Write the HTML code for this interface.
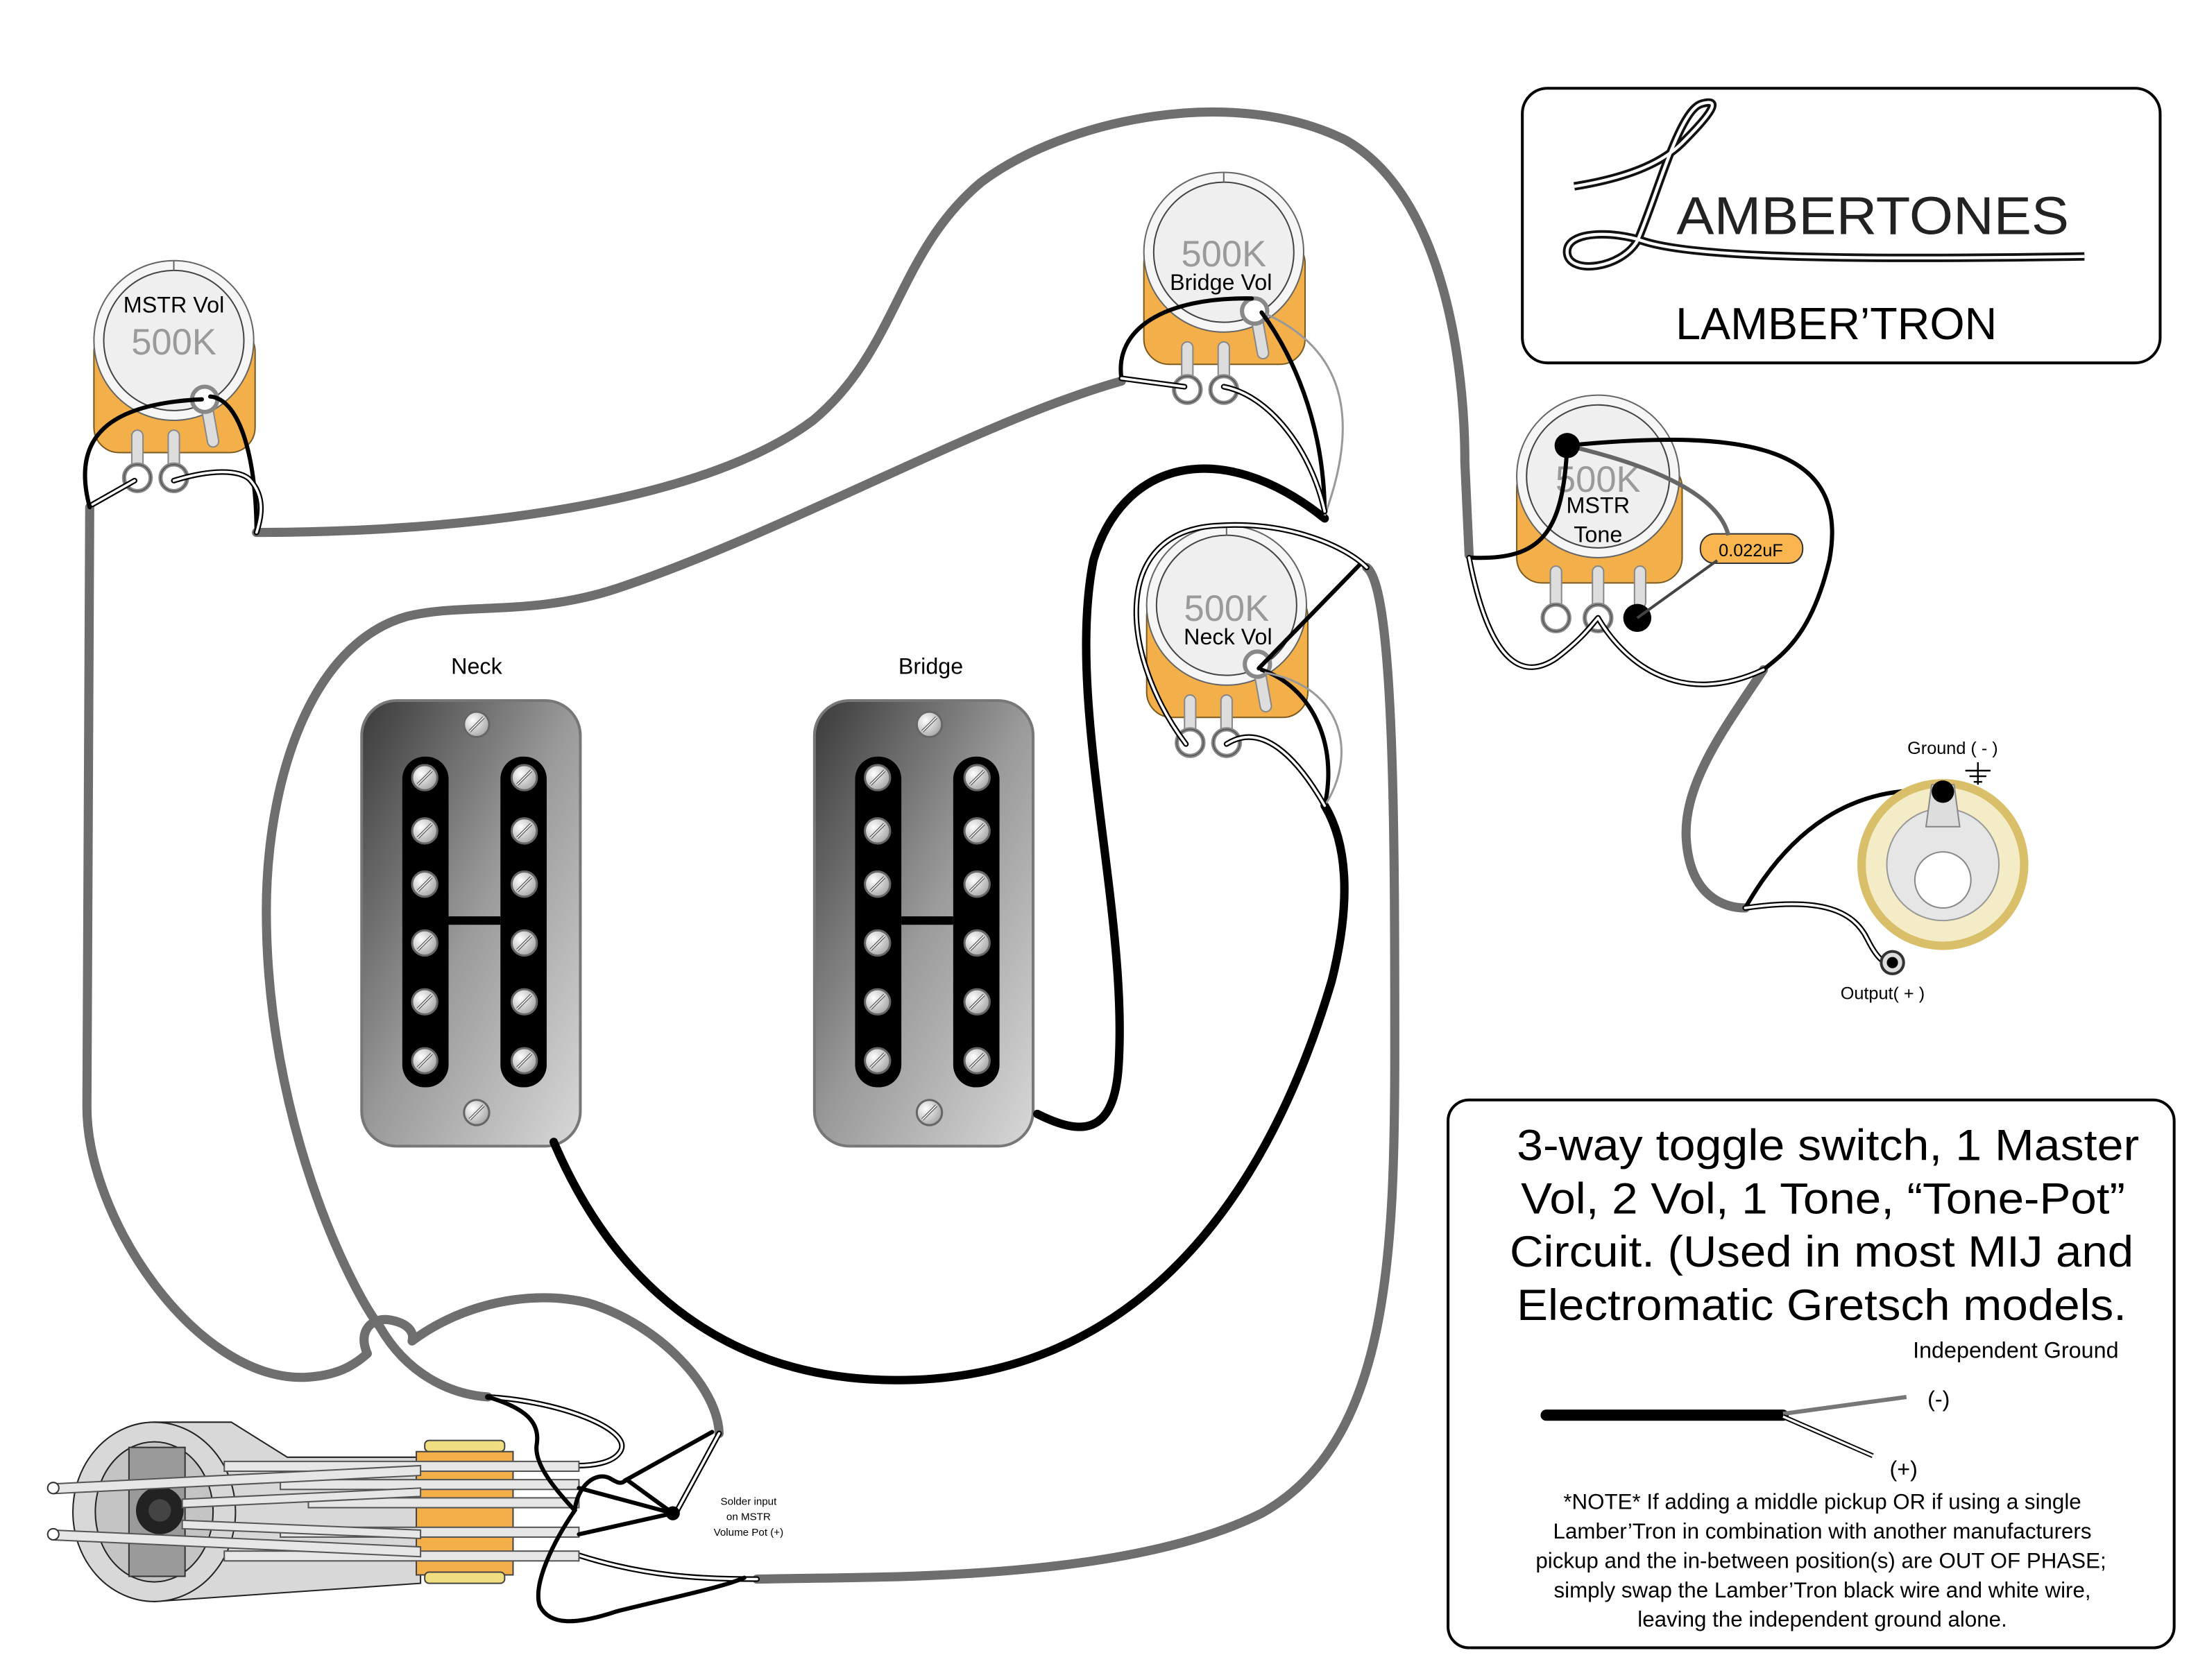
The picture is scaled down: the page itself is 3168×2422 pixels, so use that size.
<!DOCTYPE html>
<html><head><meta charset="utf-8"><style>
html,body{margin:0;padding:0;background:#fff;}
svg{display:block;font-family:"Liberation Sans",sans-serif;}
</style></head><body>
<svg width="3168" height="2422" viewBox="0 0 1568 1199" preserveAspectRatio="none" xmlns="http://www.w3.org/2000/svg">
<defs>
<linearGradient id="pg" x1="0" y1="0" x2="1" y2="1">
<stop offset="0" stop-color="#3a3a3a"/><stop offset="0.5" stop-color="#9a9a9a"/><stop offset="1" stop-color="#d8d8d8"/>
</linearGradient>
<radialGradient id="sg" cx="0.35" cy="0.35" r="0.8"><stop offset="0" stop-color="#fff"/><stop offset="1" stop-color="#999"/></radialGradient>
<g id="screw"><circle r="9" fill="url(#sg)" stroke="#666" stroke-width="1.5"/><line x1="-5" y1="5" x2="5" y2="-5" stroke="#555" stroke-width="2"/><line x1="-5" y1="5" x2="5" y2="-5" stroke="#fff" stroke-width="0.8"/></g>
<g id="ring"><circle r="9.5" fill="#fff" stroke="#888" stroke-width="3"/><circle r="9.5" fill="none" stroke="#555" stroke-width="0.8"/></g>
<g id="pot">
<rect x="-57" y="-10" width="115" height="90" rx="18" fill="#f3b04a" stroke="#7a5a20" stroke-width="1"/>
<rect x="-30" y="64" width="8" height="30" rx="4" fill="#ddd" stroke="#888"/>
<rect x="-4" y="64" width="8" height="30" rx="4" fill="#ddd" stroke="#888"/>
<circle r="57" fill="#f6f6f6" stroke="#666" stroke-width="1"/>
<circle r="50" fill="#efefef" stroke="#444" stroke-width="1"/>
<line x1="0" y1="-57" x2="0" y2="-50" stroke="#666"/>
<line x1="23" y1="44" x2="28" y2="72" stroke="#888" stroke-width="9" stroke-linecap="round"/>
<line x1="23" y1="44" x2="28" y2="72" stroke="#ddd" stroke-width="7" stroke-linecap="round"/>
<circle cx="22" cy="42" r="9" fill="#fff" stroke="#888" stroke-width="3"/>
<use href="#ring" x="-26" y="98"/><use href="#ring" x="0" y="98"/>
</g>
<g id="pickup">
<rect x="0" y="0" width="156" height="318" rx="25" fill="url(#pg)" stroke="#777" stroke-width="2"/>
<use href="#screw" x="82" y="17"/><use href="#screw" x="82" y="294"/>
<rect x="29" y="40" width="33" height="236" rx="16" fill="#000"/>
<rect x="99" y="40" width="33" height="236" rx="16" fill="#000"/>
<rect x="62" y="154" width="37" height="6" fill="#000"/>
<use href="#screw" x="45" y="55"/><use href="#screw" x="45" y="93"/><use href="#screw" x="45" y="131"/><use href="#screw" x="45" y="173"/><use href="#screw" x="45" y="215"/><use href="#screw" x="45" y="257"/>
<use href="#screw" x="116" y="55"/><use href="#screw" x="116" y="93"/><use href="#screw" x="116" y="131"/><use href="#screw" x="116" y="173"/><use href="#screw" x="116" y="215"/><use href="#screw" x="116" y="257"/>
</g>
</defs>

<!-- logo box -->
<rect x="1086" y="63" width="455" height="196" rx="18" fill="#fff" stroke="#000" stroke-width="2"/>
<g fill="none" stroke-linecap="butt">
<path d="M1123,133 C1160,127 1185,117 1200,102 C1222,80 1228,70 1214,74 C1198,78 1182,140 1168,172 C1156,192 1120,196 1118,181 C1116,164 1152,165 1172,172 C1205,183 1300,186 1487,183" stroke="#111" stroke-width="6"/>
<path d="M1123,133 C1160,127 1185,117 1200,102 C1222,80 1228,70 1214,74 C1198,78 1182,140 1168,172 C1156,192 1120,196 1118,181 C1116,164 1152,165 1172,172 C1205,183 1300,186 1487,183" stroke="#fff" stroke-width="2.2"/>
</g>
<text x="1196" y="167" font-size="38" textLength="280" lengthAdjust="spacingAndGlyphs" fill="#222">AMBERTONES</text>
<text x="1310" y="242" font-size="32" text-anchor="middle" fill="#000">LAMBER’TRON</text>

<!-- text box -->
<rect x="1033" y="785" width="518" height="391" rx="15" fill="#fff" stroke="#000" stroke-width="2"/>
<g font-size="31" fill="#000">
<text x="1082" y="828" textLength="444" lengthAdjust="spacingAndGlyphs">3-way toggle switch, 1 Master</text>
<text x="1085" y="866" textLength="431" lengthAdjust="spacingAndGlyphs">Vol, 2 Vol, 1 Tone, “Tone-Pot”</text>
<text x="1077" y="904" textLength="445" lengthAdjust="spacingAndGlyphs">Circuit. (Used in most MIJ and</text>
<text x="1082" y="942" textLength="435" lengthAdjust="spacingAndGlyphs">Electromatic Gretsch models.</text>
</g>
<text x="1438" y="969" font-size="16" text-anchor="middle">Independent Ground</text>
<line x1="1103" y1="1010" x2="1272" y2="1010" stroke="#000" stroke-width="8" stroke-linecap="round"/>
<line x1="1272" y1="1009" x2="1360" y2="997" stroke="#777" stroke-width="3"/>
<line x1="1272" y1="1011" x2="1336" y2="1039" stroke="#000" stroke-width="3.5"/>
<line x1="1272" y1="1011" x2="1336" y2="1039" stroke="#fff" stroke-width="1.6"/>
<text x="1383" y="1004" font-size="16" text-anchor="middle">(-)</text>
<text x="1358" y="1054" font-size="16" text-anchor="middle">(+)</text>
<g font-size="15.5" text-anchor="middle">
<text x="1300" y="1077">*NOTE* If adding a middle pickup OR if using a single</text>
<text x="1300" y="1098">Lamber’Tron in combination with another manufacturers</text>
<text x="1299" y="1119">pickup and the in-between position(s) are OUT OF PHASE;</text>
<text x="1300" y="1140">simply swap the Lamber’Tron black wire and white wire,</text>
<text x="1300" y="1161">leaving the independent ground alone.</text>
</g>

<!-- pickups -->
<text x="340" y="481" font-size="16" text-anchor="middle">Neck</text>
<text x="664" y="481" font-size="16" text-anchor="middle">Bridge</text>
<use href="#pickup" x="258" y="500"/>
<use href="#pickup" x="581" y="500"/>

<!-- gray wires -->
<g fill="none" stroke="#6e6e6e" stroke-width="6.5" stroke-linecap="round">
<path d="M183,380 C330,380 500,360 580,300 C640,250 640,180 700,130 C760,85 880,60 960,100 C1030,140 1045,260 1045,330 L1048,396"/>
<path d="M800,272 C700,300 560,380 440,420 C380,440 330,430 290,440 C220,460 190,560 190,650 C190,800 250,920 271,947 C290,980 320,995 348,997"/>
<path d="M64,362 L62,790 C62,870 140,985 217,983 C240,982 252,975 262,966"/>
<path d="M262,966 C255,950 265,940 278,942 C290,944 296,950 294,957"/>
<path d="M294,957 C330,930 380,920 420,930 C470,945 512,990 513,1023"/>
<path d="M975,405 C995,420 995,600 995,750 C995,900 990,1030 900,1080 C800,1130 620,1125 540,1127"/>
<path d="M1258,478 C1230,520 1200,560 1203,600 C1206,640 1230,648 1245,648"/>
</g>

<!-- thick black wires -->
<g fill="none" stroke="#000" stroke-width="6" stroke-linecap="round">
<path d="M395,815 C440,920 520,985 640,985 C800,985 900,870 950,700 C965,640 960,600 945,575"/>
<path d="M740,795 C770,810 795,812 798,760 C805,650 760,500 780,400 C800,330 870,310 945,370"/>
</g>

<!-- pots -->
<use href="#pot" x="124" y="243"/>
<text x="124" y="223" font-size="16" text-anchor="middle">MSTR Vol</text>
<text x="124" y="253" font-size="26" text-anchor="middle" fill="#9a9a9a">500K</text>
<use href="#pot" x="873" y="180"/>
<text x="873" y="190" font-size="26" text-anchor="middle" fill="#9a9a9a">500K</text>
<text x="871" y="207" font-size="16" text-anchor="middle">Bridge Vol</text>
<use href="#pot" x="875" y="432"/>
<text x="875" y="443" font-size="26" text-anchor="middle" fill="#9a9a9a">500K</text>
<text x="876" y="460" font-size="16" text-anchor="middle">Neck Vol</text>
<!-- tone pot -->
<g transform="translate(1140,340)">
<rect x="-58" y="-10" width="118" height="86" rx="18" fill="#f3b04a" stroke="#7a5a20"/>
<rect x="-34" y="64" width="8" height="30" rx="4" fill="#ddd" stroke="#888"/>
<rect x="-4" y="64" width="8" height="30" rx="4" fill="#ddd" stroke="#888"/>
<rect x="26" y="64" width="8" height="30" rx="4" fill="#ddd" stroke="#888"/>
<circle r="58" fill="#f6f6f6" stroke="#666"/>
<circle r="51" fill="#efefef" stroke="#444"/>
<use href="#ring" x="-30" y="101"/><use href="#ring" x="0" y="101"/>
<circle cx="28" cy="101" r="10" fill="#000"/>
</g>
<text x="1140" y="351" font-size="26" text-anchor="middle" fill="#9a9a9a">500K</text>
<text x="1140" y="366" font-size="16" text-anchor="middle">MSTR</text>
<text x="1140" y="387" font-size="16" text-anchor="middle">Tone</text>
<rect x="1213" y="381" width="73" height="21" rx="10" fill="#f8b550" stroke="#333"/>
<text x="1249" y="397" font-size="12.5" text-anchor="middle">0.022uF</text>

<!-- thin black wires -->
<g fill="none" stroke="#000" stroke-width="3" stroke-linecap="round">
<path d="M144,285 C80,288 50,310 64,362"/>
<path d="M150,283 C172,285 183,330 183,380"/>
<path d="M893,213 C830,212 795,235 800,270"/>
<path d="M900,223 C920,250 945,300 945,368"/>
<path d="M898,477 L970,403"/>
<path d="M900,478 C935,490 955,530 945,575"/>
<path d="M1118,318 C1115,380 1100,400 1050,398"/>
<path d="M1118,318 C1250,305 1320,320 1305,400 C1292,455 1270,468 1258,478"/>
<path d="M1386,565 C1320,558 1275,595 1245,648"/>
</g>
<path d="M1118,318 C1170,330 1225,350 1233,382" fill="none" stroke="#666" stroke-width="3"/>
<path d="M1225,400 L1168,441" fill="none" stroke="#444" stroke-width="2"/>
<circle cx="1118" cy="318" r="9" fill="#000"/>
<g fill="none" stroke="#999" stroke-width="1.5">
<path d="M903,224 C960,250 970,300 945,368"/>
<path d="M902,480 C960,490 968,540 945,575"/>
</g>

<!-- white wires -->
<g fill="none" stroke-linecap="round">
<g stroke="#000" stroke-width="4">
<path d="M96,343 L66,360"/>
<path d="M124,343 C150,335 170,335 178,342 C190,355 186,370 183,380"/>
<path d="M845,276 L800,270"/>
<path d="M873,276 C905,282 935,320 945,365"/>
<path d="M846,531 C800,470 790,378 870,375 C920,372 960,390 975,405"/>
<path d="M875,531 C900,515 925,540 945,575"/>
<path d="M1048,398 C1060,460 1080,490 1110,470 C1130,455 1136,445 1140,441"/>
<path d="M1140,441 C1160,475 1200,505 1258,478"/>
<path d="M1245,648 C1300,640 1322,650 1332,670 C1340,686 1345,688 1350,687"/>
<path d="M348,997 C400,1000 450,1020 443,1035 C438,1045 420,1046 412,1046"/>
<path d="M513,1023 L482,1080"/>
<path d="M413,1110 C460,1125 500,1127 540,1127"/>
</g>
<g stroke="#fff" stroke-width="1.8">
<path d="M96,343 L66,360"/>
<path d="M124,343 C150,335 170,335 178,342 C190,355 186,370 183,380"/>
<path d="M845,276 L800,270"/>
<path d="M873,276 C905,282 935,320 945,365"/>
<path d="M846,531 C800,470 790,378 870,375 C920,372 960,390 975,405"/>
<path d="M875,531 C900,515 925,540 945,575"/>
<path d="M1048,398 C1060,460 1080,490 1110,470 C1130,455 1136,445 1140,441"/>
<path d="M1140,441 C1160,475 1200,505 1258,478"/>
<path d="M1245,648 C1300,640 1322,650 1332,670 C1340,686 1345,688 1350,687"/>
<path d="M348,997 C400,1000 450,1020 443,1035 C438,1045 420,1046 412,1046"/>
<path d="M513,1023 L482,1080"/>
<path d="M413,1110 C460,1125 500,1127 540,1127"/>
</g>
</g>

<!-- jack -->
<circle cx="1386" cy="617" r="58" fill="#f3ecc6" stroke="#d9bf6a" stroke-width="6"/>
<circle cx="1386" cy="617" r="40" fill="#e6e6e6" stroke="#999"/>
<circle cx="1386" cy="628" r="20" fill="#fff" stroke="#888"/>
<path d="M1378,560 L1394,560 L1398,590 L1374,590 Z" fill="#ddd" stroke="#888"/>
<circle cx="1386" cy="565" r="8" fill="#000"/>
<circle cx="1350" cy="687" r="8" fill="#ddd" stroke="#333" stroke-width="2"/>
<circle cx="1350" cy="687" r="4" fill="#000"/>
<g stroke="#000" stroke-width="1.2"><line x1="1411" y1="544" x2="1411" y2="560"/><line x1="1402" y1="550" x2="1420" y2="550"/><line x1="1405" y1="554" x2="1417" y2="554"/><line x1="1408" y1="558" x2="1414" y2="558"/></g>
<text x="1393" y="538" font-size="12.5" text-anchor="middle">Ground ( - )</text>
<text x="1343" y="713" font-size="12.5" text-anchor="middle">Output( + )</text>

<!-- toggle switch -->
<g>
<path d="M110,1015 L165,1015 L205,1040 L300,1040 L300,1130 L110,1143 Z" fill="#d8d8d8" stroke="#222" stroke-width="1"/>
<ellipse cx="110" cy="1079" rx="58" ry="64" fill="#d8d8d8" stroke="#222"/>
<ellipse cx="110" cy="1079" rx="42" ry="50" fill="#c4c4c4" stroke="#222"/>
<rect x="92" y="1033" width="40" height="92" fill="#9a9a9a" stroke="#333"/>
<circle cx="114" cy="1078" r="17" fill="#222"/>
<circle cx="114" cy="1078" r="8" fill="#444"/>
<rect x="303" y="1028" width="57" height="8" rx="3" fill="#f0df80" stroke="#444"/>
<rect x="297" y="1036" width="69" height="88" fill="#f3b04a" stroke="#444"/>
<rect x="303" y="1122" width="57" height="8" rx="3" fill="#f0df80" stroke="#444"/>
<g stroke="#555" stroke-width="1" fill="#e6e6e6">
<rect x="160" y="1043" width="253" height="7"/>
<rect x="200" y="1056" width="213" height="7"/>
<rect x="220" y="1069" width="193" height="7"/>
<rect x="200" y="1090" width="213" height="7"/>
<rect x="160" y="1107" width="253" height="7"/>
<path d="M38,1059 L300,1046 L300,1053 L38,1066 Z"/>
<path d="M38,1092 L300,1104 L300,1111 L38,1099 Z"/>
<path d="M130,1070 L300,1062 L300,1068 L130,1076 Z"/>
<path d="M130,1085 L300,1092 L300,1098 L130,1091 Z"/>
</g>
<circle cx="38" cy="1062" r="4" fill="#fff" stroke="#333"/>
<circle cx="38" cy="1095" r="4" fill="#fff" stroke="#333"/>
</g>
<g fill="none" stroke="#000" stroke-width="3" stroke-linecap="round">
<path d="M348,997 C375,1005 385,1015 383,1030 C380,1045 398,1065 410,1078 C395,1100 380,1130 385,1146 C392,1160 410,1160 440,1150 C480,1140 515,1133 531,1126"/>
<path d="M480,1080 L413,1062"/>
<path d="M480,1080 L413,1095"/>
<path d="M480,1080 L447,1056 L508,1022"/>
<path d="M410,1078 C412,1060 425,1050 435,1055 C440,1058 443,1060 447,1056"/>
</g>
<circle cx="480" cy="1080" r="5" fill="#000"/>
<g font-size="7.5" text-anchor="middle">
<text x="534" y="1074">Solder input</text>
<text x="534" y="1085">on MSTR</text>
<text x="534" y="1096">Volume Pot (+)</text>
</g>
</svg>
</body></html>
